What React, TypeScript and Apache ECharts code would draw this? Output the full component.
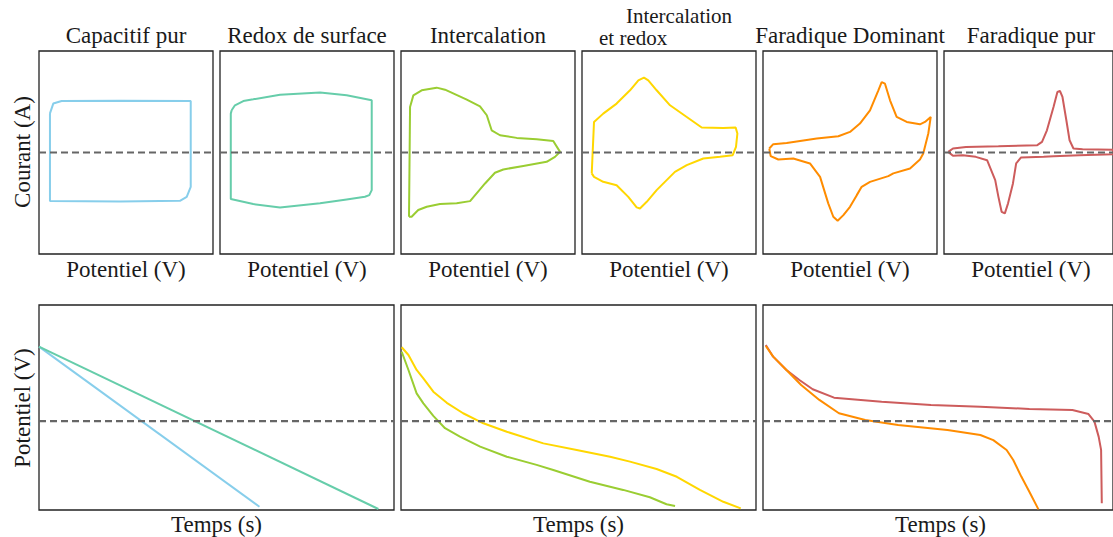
import React, { useEffect, useRef } from "react";
import * as echarts from "echarts";

// ---------- Data (x: 0..100 % of the potential/time window, y: -100..100 for CV, 0..100 for discharge) ----------
const cvTitles = ["Capacitif pur", "Redox de surface", "Intercalation", "", "Faradique Dominant", "Faradique pur"];
const cvColors = ["#87CEEB", "#66CDAA", "#9ACD32", "#FFD700", "#FF8C00", "#CD5C5C"];

const cvCapacitif: number[][] = [
  [6.3, 38.6], [8.2, 48.2], [13.0, 50.7], [46.6, 51.1], [87.2, 50.7], [87.2, -33.8], [84.9, -43.7],
  [81.0, -47.6], [46.6, -48.2], [6.3, -47.9], [6.3, 38.6],
];
const cvRedoxSurface: number[][] = [
  [6.7, 41.6], [8.6, 46.5], [13.4, 50.7], [19.1, 52.4], [34.5, 57.0], [57.5, 59.0], [72.8, 56.3],
  [87.2, 51.4], [87.2, -37.1], [85.8, -42.0], [83.3, -43.6], [72.8, -46.2], [57.5, -50.1],
  [34.5, -54.1], [19.1, -50.8], [6.2, -45.9], [6.2, 38.3], [6.7, 41.6],
];
const cvIntercalation: number[][] = [
  [4.6, -63.3], [5.2, 44.8], [7.1, 56.3], [11.9, 61.3], [20.5, 63.9], [25.3, 61.9], [37.8, 52.1],
  [45.4, 45.5], [49.3, 36.7], [52.1, 21.9], [56.9, 17.0], [66.5, 14.4], [78.0, 13.1], [87.5, 11.4],
  [91.4, 0.6], [88.5, -4.3], [83.7, -9.2], [70.3, -13.2], [58.8, -16.7], [54.0, -20.0], [48.3, -30.5],
  [39.7, -47.9], [32.0, -50.1], [22.4, -50.8], [14.8, -53.5], [9.9, -56.7], [6.1, -63.3], [4.6, -63.3],
];
const cvIntercalationRedox: number[][] = [
  [5.6, -20.6], [6.9, 30.1], [12.2, 38.3], [19.9, 48.2], [27.6, 61.3], [32.4, 71.1], [35.6, 73.7],
  [38.1, 71.1], [42.9, 61.3], [50.6, 46.5], [60.2, 35.0], [68.8, 24.6], [81.2, 24.2], [88.3, 24.6],
  [89.3, 18.7], [88.5, 5.5], [86.6, -2.7], [79.3, -4.3], [69.7, -5.9], [60.2, -12.5], [53.4, -19.1],
  [42.9, -37.1], [37.2, -48.6], [33.3, -55.1], [31.4, -54.1], [26.6, -43.7], [19.9, -32.2],
  [12.2, -28.9], [6.9, -24.0], [5.6, -20.6],
];
const cvFaradiqueDominant: number[][] = [
  [3.6, 3.9], [5.9, 8.2], [13.6, 9.4], [30.9, 13.8], [43.3, 16.0], [50.0, 20.3], [55.7, 28.5],
  [61.5, 41.6], [66.3, 61.3], [68.2, 69.4], [70.1, 67.8], [73.0, 51.4], [76.8, 35.0], [82.6, 30.1],
  [90.2, 27.8], [93.1, 30.1], [96.4, 35.0], [95.0, 18.7], [92.1, -1.0], [90.2, -6.9], [84.5, -15.7],
  [74.9, -20.6], [72.0, -23.3], [61.5, -28.9], [56.7, -33.8], [53.9, -42.0], [50.0, -53.5],
  [46.2, -61.7], [42.9, -67.3], [40.4, -63.3], [37.5, -50.1], [32.8, -24.0], [27.0, -10.8],
  [17.4, -5.9], [8.8, -6.9], [4.4, -3.6], [3.6, 3.9],
];
const cvFaradiquePur: number[][] = [
  [2.5, 0.6], [5.3, 3.9], [13.0, 5.5], [32.2, 6.2], [55.2, 7.2], [58.0, 10.4], [60.9, 21.9],
  [64.8, 44.8], [67.1, 59.6], [68.6, 60.6], [70.1, 54.7], [72.4, 31.8], [74.3, 12.1], [76.6, 3.9],
  [82.0, 3.2], [100, 2.8], [100, -1.7], [80.1, -2.7], [64.8, -3.6], [59.0, -4.3], [45.6, -4.9],
  [42.7, -10.8], [40.8, -30.5], [37.9, -50.1], [36.0, -60.0], [34.1, -58.4], [32.2, -43.7],
  [30.3, -27.2], [25.5, -7.6], [18.8, -4.3], [11.1, -2.7], [5.3, -3.3], [2.5, 0.6],
];

const gcdCapacitif: number[][] = [[0, 79.7], [62.1, 1.6]];
const gcdRedoxSurface: number[][] = [[0, 79.7], [95.6, 0.5]];
const gcdIntercalationRedox: number[][] = [
  [0.2, 79.4], [2.1, 75.6], [4.4, 68.3], [6.3, 64.2], [9.1, 57.7], [12.9, 52.3], [17.5, 47.2],
  [23.2, 42.3], [29.8, 38.2], [40.1, 32.5], [49.5, 29.3], [58.9, 26.0], [64.5, 23.6], [72.0, 20.0],
  [77.7, 16.2], [84.2, 9.8], [90.8, 4.0], [95.7, 0.8],
];
const gcdIntercalation: number[][] = [
  [0.2, 77.2], [2.1, 68.3], [4.4, 56.9], [6.3, 52.0], [9.1, 45.9], [12.4, 39.9], [16.6, 35.8],
  [22.3, 30.9], [29.8, 26.0], [38.2, 22.0], [42.9, 19.5], [53.2, 13.8], [62.6, 9.8], [70.1, 6.2],
  [74.8, 2.8], [77.2, 2.0],
];
const gcdFaradiquePur: number[][] = [
  [0.8, 80.5], [2.9, 74.8], [6.7, 68.3], [10.4, 63.4], [14.2, 58.9], [20.3, 54.8], [33.9, 52.8],
  [48.0, 51.2], [62.1, 50.4], [76.1, 49.3], [88.4, 48.8], [93.0, 46.8], [94.7, 43.1], [95.9, 35.8],
  [96.6, 29.3], [96.8, 3.3],
];
const gcdFaradiqueDominant: number[][] = [
  [0.8, 80.0], [2.9, 74.8], [6.7, 68.3], [10.9, 61.0], [16.1, 53.7], [21.7, 47.2], [29.2, 43.9],
  [38.6, 41.5], [52.7, 39.0], [62.1, 36.6], [65.8, 34.1], [69.6, 29.3], [71.5, 24.4], [73.8, 16.3],
  [76.1, 8.9], [78.7, 0.3],
];

const cvZeroLine = 0;
const gcdRefLine = 43.4;

const cvData = [cvCapacitif, cvRedoxSurface, cvIntercalation, cvIntercalationRedox, cvFaradiqueDominant, cvFaradiquePur];
const gcdPanels: { data: number[][]; color: string }[][] = [
  [{ data: gcdCapacitif, color: cvColors[0] }, { data: gcdRedoxSurface, color: cvColors[1] }],
  [{ data: gcdIntercalationRedox, color: cvColors[3] }, { data: gcdIntercalation, color: cvColors[2] }],
  [{ data: gcdFaradiquePur, color: cvColors[5] }, { data: gcdFaradiqueDominant, color: cvColors[4] }],
];

const FONT = "Liberation Serif";
const TEXT_COLOR = "#1a1a1a";

export default function App() {
  const ref = useRef<HTMLDivElement>(null);

  useEffect(() => {
    if (!ref.current) return;
    const chart = echarts.init(ref.current, undefined, { renderer: "svg" });

    const topLefts = [39, 220, 401, 582, 763, 944];
    const topW = 174;
    const topTop = 51;
    const topH = 203;
    const botLefts = [39, 401, 763];
    const botW = 355;
    const botTop = 305;
    const botH = 205;

    const grids: any[] = [];
    const xAxes: any[] = [];
    const yAxes: any[] = [];
    const series: any[] = [];

    const hiddenAxis = {
      axisLine: { show: false },
      axisTick: { show: false },
      axisLabel: { show: false },
      splitLine: { show: false },
    };
    const gridStyle = { show: true, borderColor: "#222", borderWidth: 1.3, backgroundColor: "transparent" };

    const addLine = (idx: number, data: number[][], color: string) => {
      series.push({
        type: "line",
        xAxisIndex: idx,
        yAxisIndex: idx,
        data,
        symbol: "none",
        showSymbol: false,
        smooth: false,
        clip: true,
        silent: true,
        lineStyle: { color, width: 2 },
        z: 3,
      });
    };
    const addRef = (idx: number, value: number) => {
      series.push({
        type: "line",
        xAxisIndex: idx,
        yAxisIndex: idx,
        data: [[0, value], [100, value]],
        symbol: "none",
        showSymbol: false,
        silent: true,
        lineStyle: { color: "#666666", width: 2.2, type: [7, 4] },
        z: 4,
      });
    };

    topLefts.forEach((left, i) => {
      grids.push({ left, top: topTop, width: topW, height: topH, ...gridStyle });
      xAxes.push({ type: "value", gridIndex: i, min: 0, max: 100, ...hiddenAxis });
      yAxes.push({ type: "value", gridIndex: i, min: -100, max: 100, ...hiddenAxis });
      addLine(i, cvData[i], cvColors[i]);
      addRef(i, cvZeroLine);
    });

    botLefts.forEach((left, j) => {
      const i = 6 + j;
      grids.push({ left, top: botTop, width: botW, height: botH, ...gridStyle });
      xAxes.push({ type: "value", gridIndex: i, min: 0, max: 100, ...hiddenAxis });
      yAxes.push({ type: "value", gridIndex: i, min: 0, max: 100, ...hiddenAxis });
      gcdPanels[j].forEach((p) => addLine(i, p.data, p.color));
      addRef(i, gcdRefLine);
    });

    const txt = (x: number, y: number, text: string, opts: any = {}) => ({
      type: "text",
      x,
      y,
      rotation: opts.rotation || 0,
      silent: true,
      style: {
        text,
        fill: TEXT_COLOR,
        fontFamily: FONT,
        fontSize: opts.size || 23,
        align: opts.align || "center",
        verticalAlign: "middle",
      },
    });

    const graphics: any[] = [];
    topLefts.forEach((left, i) => {
      if (cvTitles[i]) graphics.push(txt(left + topW / 2, 35, cvTitles[i]));
      graphics.push(txt(left + topW / 2, 269, "Potentiel (V)"));
    });
    graphics.push(txt(679, 15.5, "Intercalation", { size: 21 }));
    graphics.push(txt(599, 37.5, "et redox", { align: "left", size: 21 }));
    botLefts.forEach((left) => graphics.push(txt(left + botW / 2, 524, "Temps (s)")));
    graphics.push(txt(22, 152, "Courant (A)", { rotation: Math.PI / 2 }));
    graphics.push(txt(22, 408, "Potentiel (V)", { rotation: Math.PI / 2 }));

    chart.setOption({
      animation: false,
      backgroundColor: "#ffffff",
      grid: grids,
      xAxis: xAxes,
      yAxis: yAxes,
      series,
      graphic: graphics,
    });

    return () => chart.dispose();
  }, []);

  return (
    <div
      ref={ref}
      style={{ position: "absolute", left: 0, top: 0, width: 1113, height: 537 }}
    />
  );
}
